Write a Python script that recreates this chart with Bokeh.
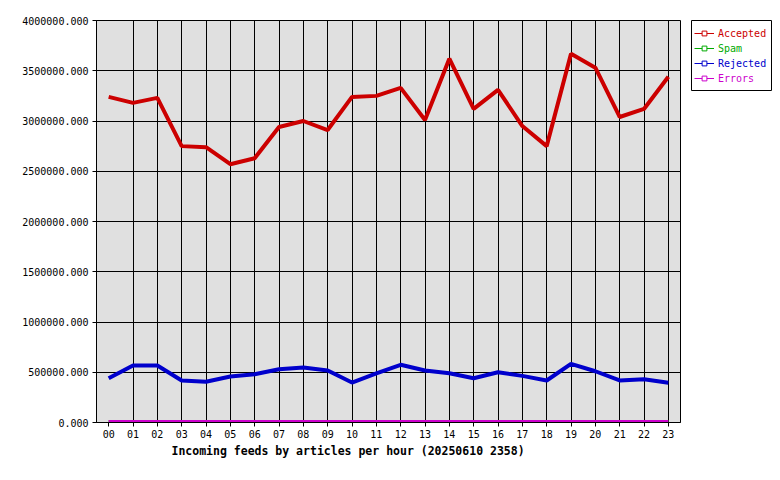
from bokeh.plotting import figure
from bokeh.models import (FactorRange, Range1d, SingleIntervalTicker, PrintfTickFormatter,
                          Legend, LegendItem, Title, ColumnDataSource)
from bokeh.layouts import row
from bokeh.embed import file_html
from bokeh.resources import INLINE

hours = ["00", "01", "02", "03", "04", "05", "06", "07", "08", "09", "10", "11",
         "12", "13", "14", "15", "16", "17", "18", "19", "20", "21", "22", "23"]
accepted = [3240000, 3180000, 3230000, 2750000, 2740000, 2570000, 2630000, 2940000,
            3000000, 2910000, 3240000, 3250000, 3330000, 3010000, 3620000, 3120000,
            3310000, 2950000, 2750000, 3670000, 3530000, 3040000, 3120000, 3440000]
spam = [0] * 24
rejected = [440000, 567000, 567000, 418000, 405000, 458000, 480000, 530000,
            547000, 517000, 398000, 488000, 574000, 517000, 490000, 440000,
            500000, 464000, 418000, 584000, 510000, 418000, 430000, 395000]
errors = [0] * 24

series_names = ["Accepted", "Spam", "Rejected", "Errors"]
series_colors = ["#cc0000", "#00aa00", "#0000cc", "#cc00cc"]
series_values = [accepted, spam, rejected, errors]
title_text = "Incoming feeds by articles per hour (20250610 2358)"

FONT = "DejaVu Sans Mono"

p = figure(x_range=FactorRange(*hours, range_padding=0),
           y_range=Range1d(0, 4000000),
           frame_width=584, frame_height=402,
           min_border_left=96, min_border_right=10, min_border_top=20, min_border_bottom=10,
           output_backend="svg", toolbar_location=None,
           background_fill_color="#e0e0e0", border_fill_color="white")
p.outline_line_color = "black"
p.outline_line_width = 1

for ax in (p.xaxis[0], p.yaxis[0]):
    ax.axis_line_color = "black"
    ax.major_tick_in = 0
    ax.major_tick_out = 4
    ax.major_tick_line_color = "black"
    ax.minor_tick_line_color = None
    ax.major_label_text_font = FONT
    ax.major_label_text_font_size = "10px"
    ax.major_label_text_color = "black"
p.xaxis.major_label_standoff = 3
p.yaxis.major_label_standoff = 4
p.yaxis.ticker = SingleIntervalTicker(interval=500000)
p.yaxis.formatter = PrintfTickFormatter(format="%.3f")

for g in (p.xgrid[0], p.ygrid[0]):
    g.grid_line_color = "black"
    g.grid_line_width = 1
    g.grid_line_alpha = 1
p.ygrid.ticker = SingleIntervalTicker(interval=500000)

p.add_layout(Title(text=title_text, align="left", offset=75, standoff=3,
                   text_font=FONT, text_font_style="bold", text_font_size="11.5px",
                   text_color="black"), "below")

src = ColumnDataSource(dict(hour=hours, Accepted=accepted, Spam=spam,
                            Rejected=rejected, Errors=errors))

# legend panel: a small figure whose frame outline is the legend box
lp = figure(x_range=Range1d(0, 1), y_range=Range1d(0, 1),
            frame_width=80, frame_height=70,
            min_border_left=1, min_border_right=2, min_border_top=20, min_border_bottom=2,
            output_backend="svg", toolbar_location=None,
            background_fill_color="white", border_fill_color="white")
lp.axis.visible = False
lp.grid.visible = False
lp.outline_line_color = "black"
lp.outline_line_width = 1

for i, (name, color, vals) in enumerate(zip(series_names, series_colors, series_values)):
    lw = 5 if name in ("Spam", "Errors") else 4
    p.line(x="hour", y=name, source=src, line_color=color, line_width=lw)
    lsrc = ColumnDataSource(dict(x=list(range(len(vals))), y=vals))
    dl = lp.line(x="x", y="y", source=lsrc, line_color=color, line_width=1, visible=False)
    ds = lp.scatter(x="x", y="y", source=lsrc, marker="square", size=4, line_color=color,
                    fill_color="white", line_width=1, visible=False)
    lg = Legend(items=[LegendItem(label=name, renderers=[dl, ds])],
                location=(3, 50.7 - 15 * i),
                padding=0, margin=0, spacing=0,
                glyph_width=20, glyph_height=12, label_height=12, label_standoff=4,
                label_text_font=FONT, label_text_font_size="10px",
                label_text_color=color, inactive_fill_alpha=0,
                border_line_alpha=0, background_fill_alpha=0)
    lp.add_layout(lg, "center")

layout = row(p, lp)
open("out.html", "w").write(file_html(layout, INLINE))
